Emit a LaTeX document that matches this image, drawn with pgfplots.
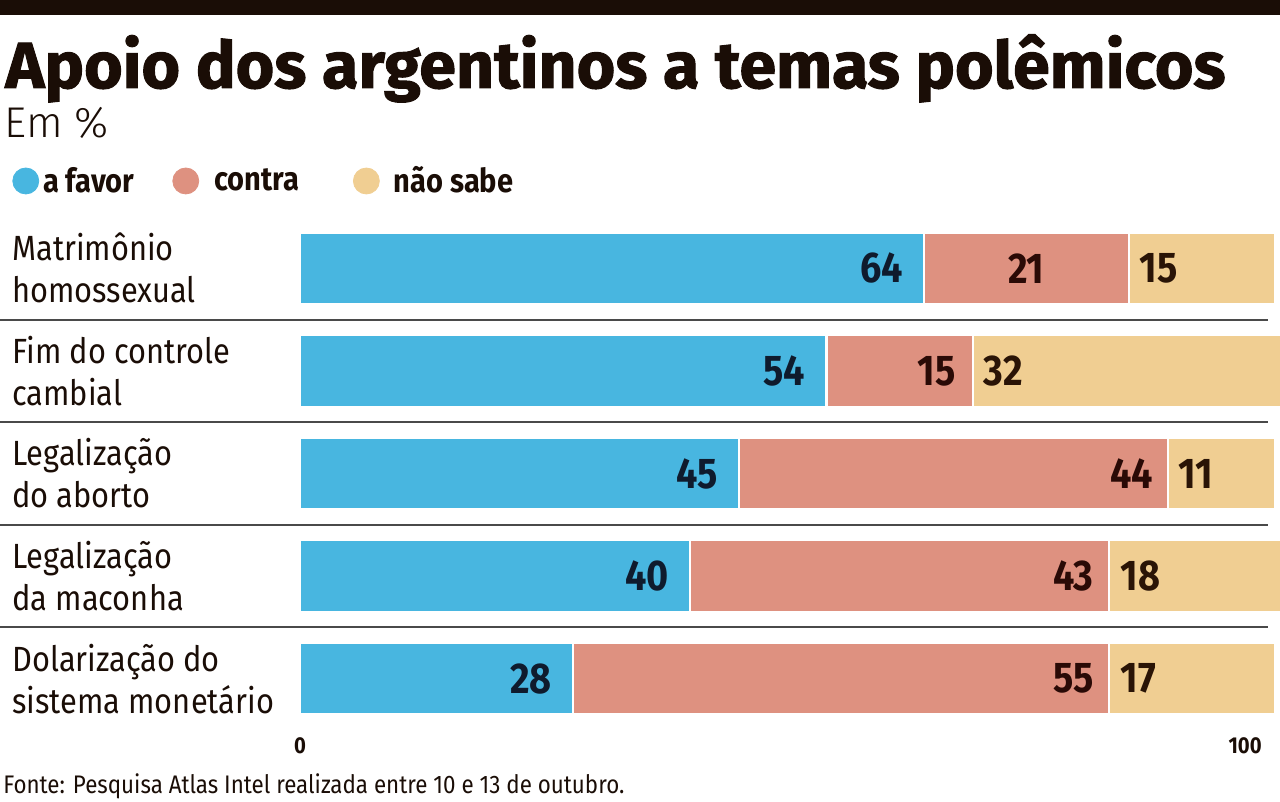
\documentclass[border=0pt]{standalone}
\usepackage{fontspec}
\usepackage{pgfplots}
\pgfplotsset{compat=1.18}
\usepackage{pgfplotstable}
\setmainfont{Fira Sans}[FakeStretch=0.88]
\IfFontExistsTF{Fira Sans Heavy}{\newfontfamily\titlefont{Fira Sans Heavy}[FakeBold=1.2]}{\newfontfamily\titlefont{Fira Sans}[UprightFont=* Bold, FakeBold=1.5]}
\IfFontExistsTF{Fira Sans Light}{\newfontfamily\lightfont{Fira Sans Light}}{\newfontfamily\lightfont{Fira Sans}}

\definecolor{cfav}{HTML}{48B6E0}
\definecolor{ccon}{HTML}{DE9180}
\definecolor{cns}{HTML}{F0CE92}
\definecolor{ink}{HTML}{1A0D06}
\definecolor{navyink}{HTML}{0F1B2D}
\definecolor{redink}{HTML}{2A0A06}
\definecolor{tanink}{HTML}{2A1406}
\definecolor{sepgray}{HTML}{4A4A4A}

% flag: 1 = red label right-aligned in its segment, 0 = centred
\pgfplotstableread{
y fav con ns flag
5 64 21 15 0
4 54 15 32 1
3 45 44 11 1
2 40 43 18 1
1 28 55 17 1
}\data

\begin{document}
\begin{tikzpicture}
\fill[ink] (0,393.5pt) rectangle (640pt,401pt);
\node[anchor=base west, inner sep=0pt] at (2.5pt,357pt)
  {\resizebox*{610pt}{34pt}{\titlefont\color{ink}Apoio dos argentinos a temas polêmicos}};
\node[anchor=base west, inner sep=0pt, text=ink, font=\lightfont\fontsize{21.5}{24}\selectfont] at (2pt,332pt) {Em \%};

\begin{axis}[
  at={(150pt,36pt)}, anchor=south west,
  scale only axis, width=487.5pt, height=256.5pt,
  xbar stacked, bar width=36pt,
  xmin=0, xmax=100, ymin=0.5, ymax=5.5,
  clip=false,
  axis line style={draw=none}, major tick length=0pt, tick style={draw=none},
  /pgf/number format/assume math mode=true,
  xtick={0}, extra x ticks={100},
  extra x tick style={xticklabel style={anchor=north east, xshift=-6.5pt}},
  xticklabel style={font=\bfseries\fontsize{11.5}{12}\selectfont, inner sep=0pt, yshift=-3.5pt, text=ink},
  ytick={1,2,3,4,5},
  yticklabels={{Dolarização do\\sistema monetário},{Legalização\\da maconha},{Legalização\\do aborto},{Fim do controle\\cambial},{Matrimônio\\homossexual}},
  yticklabel style={anchor=west, align=left, xshift=-144pt, inner sep=0pt, text=ink, font=\fontsize{17.5}{21}\selectfont},
  nodes near coords, point meta=explicit,
  every node near coord/.append style={font=\bfseries\fontsize{21.5}{23}\selectfont, inner sep=0pt},
  legend style={at={(-0.2954,1.0702)}, anchor=west, draw=none, fill=none, inner sep=0pt,
    legend columns=3, font=\bfseries\fontsize{16.5}{19}\selectfont, text=ink,
    /tikz/column 1/.style={column sep=0pt},
    /tikz/column 2/.style={column sep=17pt},
    /tikz/column 3/.style={column sep=5.5pt},
    /tikz/column 4/.style={column sep=25pt},
    /tikz/column 5/.style={column sep=5pt}},
  legend cell align=left,
]
\addlegendimage{legend image code/.code={\fill[cfav] (6.5pt,0pt) circle (6.5pt);}}
\addlegendimage{legend image code/.code={\fill[ccon] (6.5pt,0pt) circle (6.5pt);}}
\addlegendimage{legend image code/.code={\fill[cns] (6.5pt,0pt) circle (6.5pt);}}
\legend{a favor, contra, não sabe}

\pgfplotsinvokeforeach{1.5,2.5,3.5,4.5}{
  \draw[sepgray, line width=1pt] (axis cs:-30.77,#1) -- (axis cs:99.28,#1);
}

% nodes near coords sit at the middle of each stacked segment (2.4375pt = half a unit)
\addplot[fill=cfav, draw=white, line width=1.2pt,
  visualization depends on={\thisrow{fav} \as \fv},
  every node near coord/.append style={anchor=east, xshift={\fv*2.4375pt-10pt}, text=navyink}]
  table[x=fav, y=y, meta=fav] {\data};
\addplot[fill=ccon, draw=white, line width=1.2pt,
  visualization depends on={\thisrow{con} \as \cv},
  visualization depends on={\thisrow{flag} \as \fl},
  every node near coord/.append style={anchor=center, xshift={\fl*(\cv*2.4375pt-18pt)}, text=redink}]
  table[x=con, y=y, meta=con] {\data};
\addplot[fill=cns, draw=white, line width=1.2pt,
  visualization depends on={\thisrow{ns} \as \nsval},
  every node near coord/.append style={anchor=west, xshift={5pt-\nsval*2.4375pt}, text=tanink}]
  table[x=ns, y=y, meta=ns] {\data};
\end{axis}

\node[anchor=base west, inner sep=0pt, text=ink, font=\fontsize{12.7}{14}\selectfont] at (1.5pt,4pt)
  {Fonte: Pesquisa Atlas Intel realizada entre 10 e 13 de outubro.};

\pgfresetboundingbox
\path (0,0) rectangle (640pt,401pt);
\end{tikzpicture}
\end{document}
